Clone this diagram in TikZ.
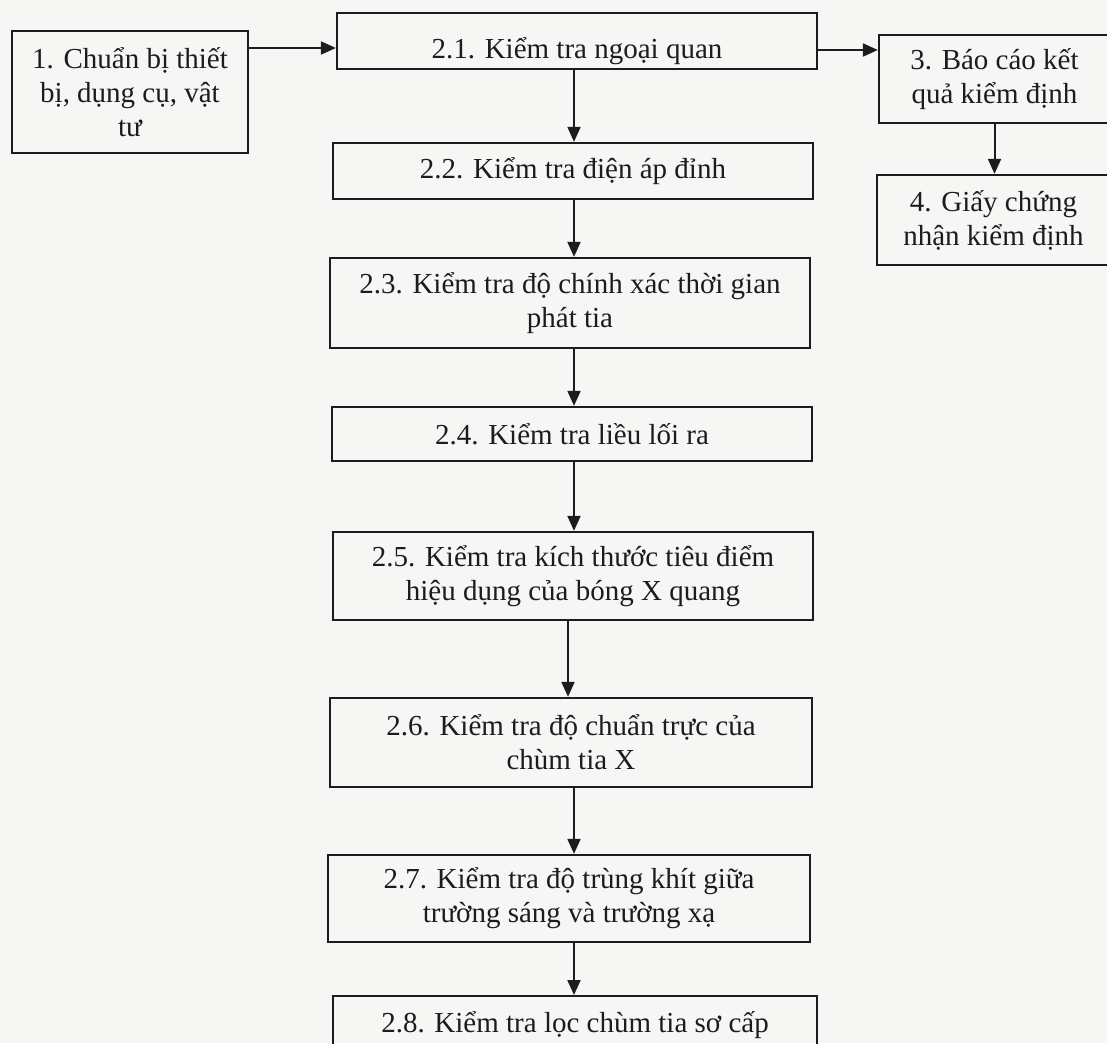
\documentclass[tikz,border=0pt]{standalone}
\usepackage{fontspec}
\setmainfont{Liberation Serif}
\usetikzlibrary{arrows.meta,calc}
\definecolor{bg}{RGB}{246,246,245}
\definecolor{ink}{RGB}{28,28,28}
\tikzset{
  box/.style={draw=ink, line width=2.3pt, rectangle, inner sep=0pt, align=center,
    text=ink, font=\fontsize{29}{34}\selectfont},
  arr/.style={draw=ink, line width=2pt, -{Triangle[length=15pt,width=13pt]}}
}
\begin{document}
\begin{tikzpicture}[x=1pt,y=-1pt]
\useasboundingbox (0,0) rectangle (1107,1043);
\fill[bg] (0,0) rectangle (1107,1043);
\clip (0,0) rectangle (1107,1043);
\node[box, minimum width=236pt, minimum height=122pt] (b1) at (130,92) {1. Chuẩn bị thiết\\bị, dụng cụ, vật\\tư};
\node[box, minimum width=480pt, minimum height=56pt, text height=43pt, text depth=7pt] (b21) at (577,41) {2.1. Kiểm tra ngoại quan};
\node[box, minimum width=231pt, minimum height=88pt] (b3) at (994.5,79) {3. Báo cáo kết\\quả kiểm định};
\node[box, minimum width=233pt, minimum height=90pt] (b4) at (993.5,220) {4. Giấy chứng\\nhận kiểm định};
\node[box, minimum width=480pt, minimum height=56pt] (b22) at (573,171) {2.2. Kiểm tra điện áp đỉnh};
\node[box, minimum width=480pt, minimum height=90pt] (b23) at (570,303) {2.3. Kiểm tra độ chính xác thời gian\\phát tia};
\node[box, minimum width=480pt, minimum height=54pt] (b24) at (572,434) {2.4. Kiểm tra liều lối ra};
\node[box, minimum width=480pt, minimum height=88pt] (b25) at (573,576) {2.5. Kiểm tra kích thước tiêu điểm\\hiệu dụng của bóng X quang};
\node[box, minimum width=482pt, minimum height=89pt] (b26) at (571,742.5) {2.6. Kiểm tra độ chuẩn trực của\\chùm tia X};
\node[box, minimum width=482pt, minimum height=87pt] (b27) at (569,898.5) {2.7. Kiểm tra độ trùng khít giữa\\trường sáng và trường xạ};
\node[box, minimum width=484pt, minimum height=70pt, anchor=north] (b28) at (575,995) {};
\node[text=ink, font=\fontsize{29}{34}\selectfont, anchor=base] (t28) at (575,1032) {2.8. Kiểm tra lọc chùm tia sơ cấp};
\coordinate (a1) at (0,48);
\coordinate (a2) at (0,50);
\coordinate (v1) at (574,0);
\coordinate (v2) at (568,0);
\draw[arr] (b1.east |- a1) -- (b21.west |- a1);
\draw[arr] (b21.east |- a2) -- (b3.west |- a2);
\draw[arr] (b3.south) -- (b3.south |- b4.north);
\draw[arr] (b21.south -| v1) -- (b22.north -| v1);
\draw[arr] (b22.south -| v1) -- (b23.north -| v1);
\draw[arr] (b23.south -| v1) -- (b24.north -| v1);
\draw[arr] (b24.south -| v1) -- (b25.north -| v1);
\draw[arr] (b25.south -| v2) -- (b26.north -| v2);
\draw[arr] (b26.south -| v1) -- (b27.north -| v1);
\draw[arr] (b27.south -| v1) -- (b28.north -| v1);
\end{tikzpicture}
\end{document}
